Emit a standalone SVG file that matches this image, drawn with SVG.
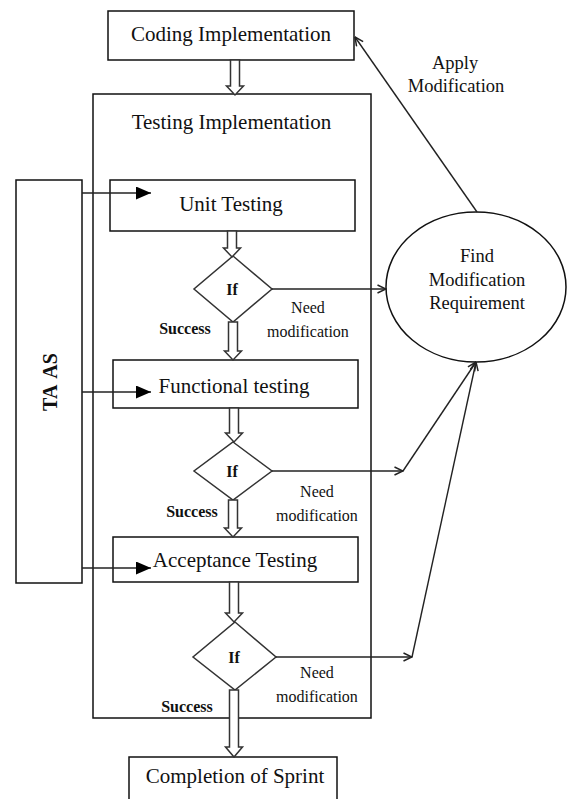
<svg xmlns="http://www.w3.org/2000/svg" width="568" height="799" viewBox="0 0 568 799">
  <style>
    .box { fill: #fff; stroke: #111; stroke-width: 1.5; }
    .dia { fill: #fff; stroke: #333; stroke-width: 1.5; }
    .lbl { font-family: "Liberation Serif", "Times New Roman", serif; fill: #111; text-anchor: middle; }
    .big { font-size: 21px; }
    .mid { font-size: 18.5px; }
    .sm { font-size: 16px; }
    .bold { font-weight: bold; }
    .wire { fill: none; stroke: #222; stroke-width: 1.4; }
    .block { fill: #fff; stroke: #333; stroke-width: 1.5; stroke-linejoin: miter; }
  </style>
  <defs>
    <marker id="open" viewBox="0 0 10 10" refX="9.5" refY="5" markerWidth="10" markerHeight="10" markerUnits="userSpaceOnUse" orient="auto">
      <path d="M1,1 L9.5,5 L1,9" fill="none" stroke="#222" stroke-width="1.5"/>
    </marker>
    <marker id="solid" viewBox="0 0 15 13" refX="15" refY="6.5" markerWidth="15" markerHeight="13" markerUnits="userSpaceOnUse" orient="auto">
      <path d="M0,0 L15,6.5 L0,13 Z" fill="#000"/>
    </marker>
  </defs>

  <!-- containers -->
  <g id="testing-implementation">
    <rect class="box" x="93" y="94" width="278" height="624"/>
    <text class="lbl big" x="231.5" y="129">Testing Implementation</text>
  </g>

  <g id="taas">
    <rect class="box" x="16" y="180" width="66" height="403"/>
    <text class="lbl bold" font-size="20" transform="translate(57,382) rotate(-90)"><tspan>TA</tspan><tspan dx="6">AS</tspan></text>
  </g>

  <g id="coding-implementation">
    <rect class="box" x="108" y="11" width="246" height="49"/>
    <text class="lbl big" x="231" y="41">Coding Implementation</text>
  </g>

  <g id="unit-testing">
    <rect class="box" x="110" y="180" width="245" height="51"/>
    <text class="lbl big" x="231" y="211">Unit Testing</text>
  </g>

  <g id="functional-testing">
    <rect class="box" x="113" y="360" width="245" height="48"/>
    <text class="lbl big" x="234" y="393">Functional testing</text>
  </g>

  <g id="acceptance-testing">
    <rect class="box" x="113" y="537" width="245" height="45"/>
    <text class="lbl big" x="235" y="567">Acceptance Testing</text>
  </g>

  <g id="completion">
    <rect class="box" x="129" y="757" width="208" height="50"/>
    <text class="lbl big" x="235" y="783">Completion of Sprint</text>
  </g>

  <g id="if-unit">
    <polygon class="dia" points="233,256 272,289 233,322 194,289"/>
    <text class="lbl sm bold" x="232" y="295">If</text>
  </g>

  <g id="if-functional">
    <polygon class="dia" points="233,442 272,471 233,500 194,471"/>
    <text class="lbl sm bold" x="232" y="477">If</text>
  </g>

  <g id="if-acceptance">
    <polygon class="dia" points="235,622 276,657 235,690 193,657"/>
    <text class="lbl sm bold" x="234" y="663">If</text>
  </g>

  <g id="find-modification">
    <ellipse class="box" cx="476" cy="287" rx="90" ry="75"/>
    <text class="lbl mid" x="477" y="262">Find</text>
    <text class="lbl mid" x="477" y="286">Modification</text>
    <text class="lbl mid" x="477" y="309">Requirement</text>
  </g>

  <!-- connectors -->
  <g id="connectors">
    <!-- hollow block arrows along the main flow -->
    <path class="block" d="M230.5,60 V86 H226.5 L235,95 L243.5,86 H239.5 V60 Z"/>
    <path class="block" d="M227.5,231 V248 H223.5 L232,257 L240.5,248 H236.5 V231 Z"/>
    <path class="block" d="M228.5,322 V351 H224.5 L233,360 L241.5,351 H237.5 V322 Z"/>
    <path class="block" d="M229.5,408 V433 H225.5 L234,442 L242.5,433 H238.5 V408 Z"/>
    <path class="block" d="M228.5,500 V528 H224.5 L233,537 L241.5,528 H237.5 V500 Z"/>
    <path class="block" d="M229.5,582 V613 H225.5 L234,622 L242.5,613 H238.5 V582 Z"/>
    <path class="block" d="M229.5,690 V747 H225.5 L234,757 L242.5,747 H238.5 V690 Z"/>

    <!-- TA AS feeds -->
    <line class="wire" x1="82" y1="193" x2="151" y2="193" stroke="#000" marker-end="url(#solid)"/>
    <line class="wire" x1="82" y1="392" x2="151" y2="392" stroke="#000" marker-end="url(#solid)"/>
    <line class="wire" x1="82" y1="568" x2="151" y2="568" stroke="#000" marker-end="url(#solid)"/>

    <!-- need modification paths -->
    <line class="wire" x1="272" y1="289" x2="386" y2="289" marker-end="url(#open)"/>
    <line class="wire" x1="272" y1="471" x2="403" y2="471" marker-end="url(#open)"/>
    <line class="wire" x1="403" y1="471" x2="476" y2="362" marker-end="url(#open)"/>
    <line class="wire" x1="276" y1="657" x2="412" y2="657" marker-end="url(#open)"/>
    <line class="wire" x1="412" y1="657" x2="476" y2="362" marker-end="url(#open)"/>

    <!-- apply modification -->
    <line class="wire" x1="477" y1="212" x2="355" y2="37" marker-end="url(#open)"/>
  </g>

  <!-- connector labels -->
  <g id="labels">
    <text class="lbl mid" x="455" y="69">Apply</text>
    <text class="lbl mid" x="456" y="92">Modification</text>

    <text class="lbl sm" x="308" y="313">Need</text>
    <text class="lbl sm" x="308" y="337">modification</text>
    <text class="lbl sm bold" x="185" y="334">Success</text>

    <text class="lbl sm" x="317" y="497">Need</text>
    <text class="lbl sm" x="317" y="521">modification</text>
    <text class="lbl sm bold" x="192" y="517">Success</text>

    <text class="lbl sm" x="317" y="678">Need</text>
    <text class="lbl sm" x="317" y="702">modification</text>
    <text class="lbl sm bold" x="187" y="712">Success</text>
  </g>
</svg>
